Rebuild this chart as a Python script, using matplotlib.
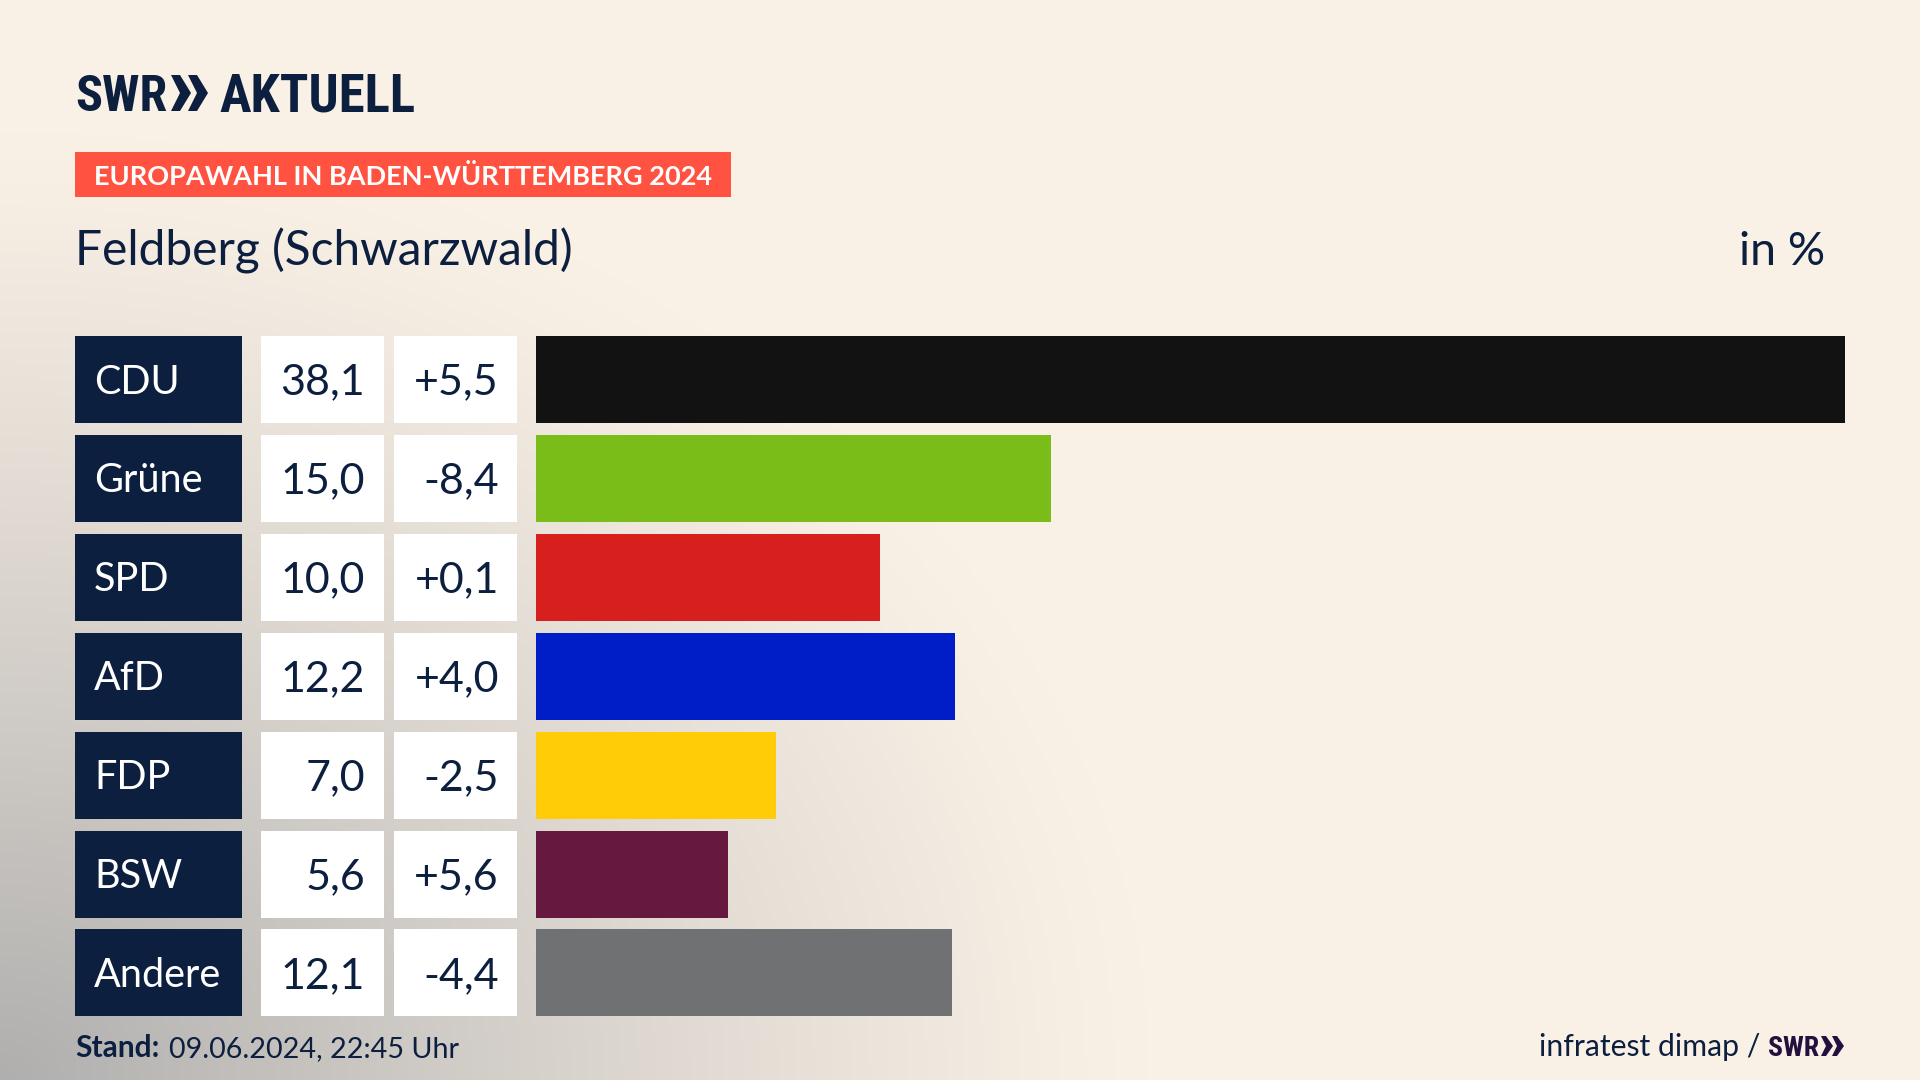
# Europawahl result chart, SWR style
import numpy as np
import matplotlib
matplotlib.use("Agg")
import matplotlib.pyplot as plt
from matplotlib.patches import Rectangle, Polygon
from matplotlib.colors import to_rgb
from matplotlib import font_manager as fm

parties = ["CDU", "Grüne", "SPD", "AfD", "FDP", "BSW", "Andere"]
shares = [38.1, 15.0, 10.0, 12.2, 7.0, 5.6, 12.1]
changes = [5.5, -8.4, 0.1, 4.0, -2.5, 5.6, -4.4]
bar_colors = ["#121212", "#7ABD19", "#D71F1D", "#001EC8", "#FFCC07", "#66183E", "#707173"]

navy = "#0C1F3F"
W, H = 1920, 1080

plt.rcParams["font.family"] = ["Lato", "DejaVu Sans"]

# narrow face for the logo if there is one
logo_font = "Lato"
for name in ["Liberation Sans Narrow", "Roboto Condensed", "Open Sans Condensed"]:
    try:
        fm.findfont(name, fallback_to_default=False)
        logo_font = name
        break
    except ValueError:
        pass

fig = plt.figure(figsize=(19.2, 10.8), dpi=100)

# whole figure in pixel coordinates
ax = fig.add_axes([0, 0, 1, 1])
ax.set_xlim(0, W)
ax.set_ylim(H, 0)
ax.axis("off")

# background: cream, going grey towards the lower left corner
yy, xx = np.mgrid[0:H:270j, 0:W:480j]
d = np.sqrt((xx / 1150) ** 2 + ((H - yy) / 950) ** 2)
f = np.clip(1 - d, 0, 1) ** 1.15
cream = np.array(to_rgb("#FAF1E6"))
grey = np.array(to_rgb("#B0AFAE"))
bg = cream + (grey - cream) * f[..., None]
ax.imshow(bg, extent=[0, W, H, 0], aspect="auto", zorder=0)

# logo
ax.text(75, 111, "SWR", fontsize=36, fontweight="bold", color=navy, family=logo_font, va="baseline")
for x0 in [171, 188]:
    ax.add_patch(Polygon([(x0, 75), (x0 + 9, 75), (x0 + 20, 93), (x0 + 9, 111), (x0, 111), (x0 + 9, 93)],
                         closed=True, color=navy, lw=0))
ax.text(219, 111, "AKTUELL", fontsize=38, fontweight="bold", color=navy, family=logo_font, va="baseline")

# banner and titles
ax.add_patch(Rectangle((75, 152), 656, 45, color="#FF5240", lw=0))
ax.text(94, 185, "EUROPAWAHL IN BADEN-WÜRTTEMBERG 2024", fontsize=19.55, fontweight="bold", color="white", va="baseline")
ax.text(75, 266, "Feldberg (Schwarzwald)", fontsize=34.5, color=navy, va="baseline")
ax.text(1825, 265, "in %", fontsize=33.5, color=navy, ha="right", va="baseline")

# table cells left of the bars
row_top = 336
row_step = 98.9
row_h = 87
for i in range(len(parties)):
    y = row_top + i * row_step
    ym = y + row_h / 2
    ax.add_patch(Rectangle((75, y), 167, row_h, color=navy, lw=0))
    ax.add_patch(Rectangle((261, y), 123, row_h, color="white", lw=0))
    ax.add_patch(Rectangle((394, y), 123, row_h, color="white", lw=0))
    ax.text(94, ym + 14, parties[i], fontsize=28.5, color="white", va="baseline")
    ax.text(365, ym + 15, f"{shares[i]:.1f}".replace(".", ","), fontsize=31, color=navy, ha="right", va="baseline")
    ax.text(499, ym + 15, f"{changes[i]:+.1f}".replace(".", ","), fontsize=31, color=navy, ha="right", va="baseline")

# footer
ax.text(75, 1057, "Stand:", fontsize=21.5, fontweight="bold", color=navy, va="baseline")
ax.text(169, 1057, "09.06.2024, 22:45 Uhr", fontsize=20.7, color=navy, va="baseline")
ax.text(1760, 1056, "infratest dimap /", fontsize=21.7, color=navy, ha="right", va="baseline")
ax.text(1768, 1056, "SWR", fontsize=20, fontweight="bold", color="#23103F", family=logo_font, va="baseline")
for x0 in [1821, 1832]:
    ax.add_patch(Polygon([(x0, 1036), (x0 + 5, 1036), (x0 + 12, 1046), (x0 + 5, 1056), (x0, 1056), (x0 + 5, 1046)],
                         closed=True, color="#23103F", lw=0))

# bars on their own axes, value scale runs to the CDU bar
bar_h = row_h / row_step
bar_left, bar_right = 536, 1845
top, bottom = row_top, row_top + 6 * row_step + row_h
ax_bar = fig.add_axes([bar_left / W, 1 - bottom / H, (bar_right - bar_left) / W, (bottom - top) / H])
ax_bar.patch.set_alpha(0)
ax_bar.barh(range(len(parties)), shares, height=bar_h, color=bar_colors)
ax_bar.set_xlim(0, max(shares))
ax_bar.set_ylim(6 + bar_h / 2, -bar_h / 2)
ax_bar.axis("off")

fig.savefig("out.png", dpi=100)
